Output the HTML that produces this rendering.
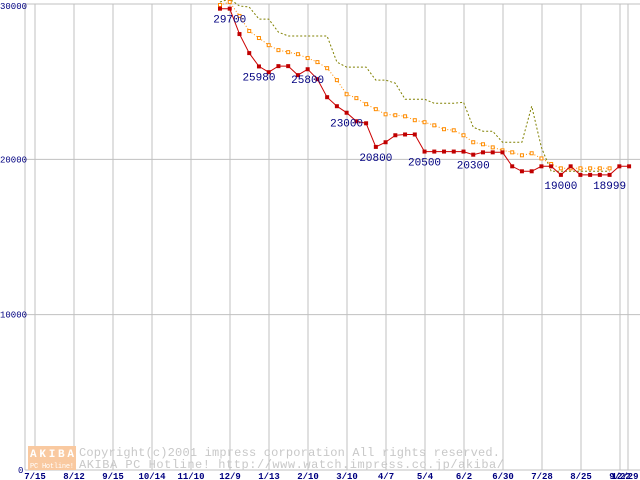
<!DOCTYPE html>
<html><head><meta charset="utf-8"><style>
body{margin:0;background:#fff;}
svg{display:block;font-family:"Liberation Mono","DejaVu Sans Mono",monospace;}
</style></head><body>
<svg id="chart" width="640" height="480" viewBox="0 0 640 480" xmlns="http://www.w3.org/2000/svg">
<g id="grid"></g>
<g id="watermark">
<rect x="28" y="446" width="48" height="24" fill="#f9c9a0"/>
<text x="30" y="457" font-size="11" fill="#fff" font-weight="bold" textLength="44">AKIBA</text>
<text x="30" y="468" font-size="7" fill="#fff" textLength="44">PC Hotline!</text>
<text x="79" y="456" font-size="12" fill="#c8c8c8" textLength="421">Copyright(c)2001 impress corporation All rights reserved.</text>
<text x="79" y="468" font-size="12" fill="#c8c8c8" textLength="425">AKIBA PC Hotline!  http://www.watch.impress.co.jp/akiba/</text>
</g>
<g id="series"></g>
<g id="labels"></g>
</svg>
<script>
const xTickLabels=["7/15","8/12","9/15","10/14","11/10","12/9","1/13","2/10","3/10","4/7","5/4","6/2","6/30","7/28","8/25","9/22","12/29"];
const yTickValues=[0,10000,20000,30000];
const lowPrice=[29700,29700,28065,26840,25980,25610,26000,26000,25420,25800,25160,24000,23420,23000,22450,22320,20800,21100,21550,21600,21600,20500,20500,20500,20500,20500,20300,20450,20450,20450,19550,19230,19230,19550,19550,19000,19550,18999,18999,18999,18999,19550,19550];
const avgPrice=[29935,30130,29230,28260,27810,27350,27030,26900,26770,26520,26260,25870,25100,24190,23940,23550,23230,22900,22840,22770,22520,22390,22190,21940,21870,21550,21100,20970,20770,20580,20450,20260,20390,20060,19700,19420,19420,19420,19420,19420,19420];
const highPrice=[30130,30320,29870,29810,29030,29030,28190,27940,27940,27940,27940,27940,26260,25940,25940,25940,25100,25100,24900,23870,23870,23870,23610,23610,23610,23680,22070,21810,21810,21100,21100,21100,23420,20770,19230,19230,19230,19230,19230,19230,19230];
const pointLabels=[[1,"29700"],[4,"25980"],[9,"25800"],[13,"23000"],[16,"20800"],[21,"20500"],[26,"20300"],[35,"19000"],[40,"18999"]];

const NS="http://www.w3.org/2000/svg";
const yTop=4,yBot=470,x0=220,step=9.74;
function yS(v){return yBot-(v/30000)*(yBot-yTop);}
function xS(i){return x0+i*step;}
function gridX(i){return i<16?35+39*i:(i===16?628:636);}
function mk(tag,attrs,parent){const e=document.createElementNS(NS,tag);for(const k in attrs)e.setAttribute(k,attrs[k]);parent.appendChild(e);return e;}
const grid=document.getElementById('grid'),ser=document.getElementById('series'),lab=document.getElementById('labels');
mk('rect',{x:0,y:0,width:640,height:480,fill:'#fff'},grid);
yTickValues.forEach(v=>{
  const l=mk('line',{x1:25,x2:640,y1:yS(v),y2:yS(v),stroke:'#c0c0c0','stroke-width':1},grid);
  
  
  const t=mk('text',{x:v===0?18:0,y:yS(v)+(v===30000?5:3),'font-size':9,fill:'#000080'},lab);
  t.textContent=v===0?"0":String(v);
  
  
});
mk('line',{x1:25,x2:25,y1:yTop,y2:yBot,stroke:'#c0c0c0'},grid);
xTickLabels.forEach((s,i)=>{
  const x=gridX(i);
  const l=mk('line',{x1:x,x2:x,y1:yTop,y2:yBot,stroke:'#c0c0c0','stroke-width':1},grid);
  
  
  const t=mk('text',{x:x+(i===16?-3:0),y:479,'font-size':9,fill:'#000080','text-anchor':'middle','font-weight':'bold'},lab);
  t.textContent=s;
  
  
});
function pts(a){return a.map((v,i)=>xS(i).toFixed(1)+","+yS(v).toFixed(1)).join(" ");}
const hi=mk('polyline',{points:pts(highPrice),fill:'none',stroke:'#808000','stroke-width':1,'stroke-dasharray':'2,2'},ser);


const av=mk('polyline',{points:pts(avgPrice),fill:'none',stroke:'#ff8c00','stroke-width':1,'stroke-dasharray':'1,2'},ser);


avgPrice.forEach((v,i)=>{
  const r=mk('rect',{x:xS(i)-1.5,y:yS(v)-1.5,width:3,height:3,fill:'#fff',stroke:'#ff8c00','stroke-width':1},ser);
  
  
});
const lo=mk('polyline',{points:pts(lowPrice),fill:'none',stroke:'#cc0000','stroke-width':1},ser);


lowPrice.forEach((v,i)=>{
  const r=mk('rect',{x:xS(i)-2,y:yS(v)-2,width:4,height:4,fill:'#c00000'},ser);
  
  
});
pointLabels.forEach(([i,s])=>{
  const t=mk('text',{x:xS(i),y:yS(lowPrice[i])+14,'font-size':11,fill:'#000080','text-anchor':'middle'},lab);
  t.textContent=s;
  
  
});
</script>
</body></html>
